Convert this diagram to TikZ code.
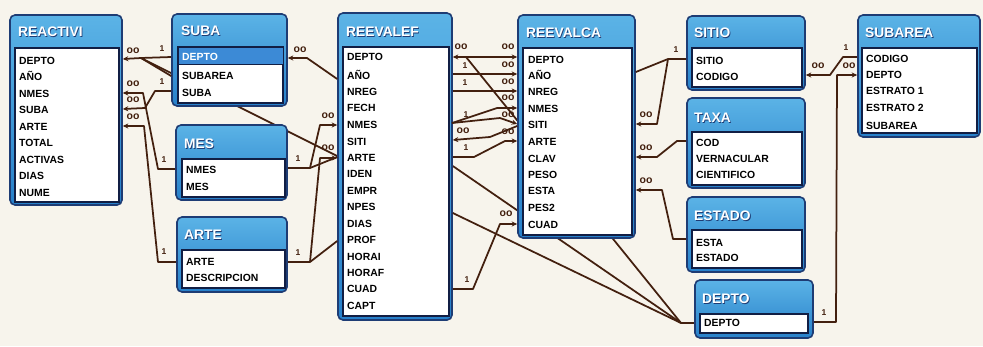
\documentclass[tikz,border=0pt]{standalone}
\usepackage{fontspec}
\setmainfont{Liberation Sans}
\usetikzlibrary{arrows.meta,fit}
\pgfdeclarelayer{bgpage}
\pgfdeclarelayer{behind}
\pgfsetlayers{bgpage,behind,main}
\definecolor{pagebg}{HTML}{F7F4EC}
\definecolor{navyb}{HTML}{1E3C74}
\definecolor{hdtop}{HTML}{5BB3E6}
\definecolor{hdbot}{HTML}{2780CA}
\definecolor{bodyb}{HTML}{111E44}
\definecolor{hlblue}{HTML}{3C8AD6}
\definecolor{brn}{HTML}{43200F}
\newcommand\fldrow[4]{\node[fld] (#1) at (#2,#3) {#4};}
\newcommand\ttlrow[4]{\node[ttlsh] (#1s) at (#2+0.8,#3+0.8) {#4};\node[ttl] (#1) at (#2,#3) {#4};}
\tikzset{
  tblouter/.style={draw=navyb, line width=1.6pt, rounded corners=5pt, top color=hdtop, bottom color=hdbot, inner sep=0pt},
  tblbody/.style={draw=bodyb, line width=1.3pt, fill=white, inner sep=0pt},
  ttl/.style={anchor=west, text=white, font=\fontsize{13.8}{14}\selectfont\bfseries, inner sep=0pt, text height=9.9pt, text depth=0pt},
  ttlsh/.style={ttl, text=navyb},
  fld/.style={anchor=west, font=\fontsize{10.4}{11}\selectfont\bfseries, inner sep=0pt, text=black, text height=7.4pt, text depth=0pt},
  conn/.style={draw=brn, line width=1.75pt, line join=round},
  many/.style={-{Stealth[length=5.5pt,width=5pt]}},
  manyboth/.style={{Stealth[length=5.5pt,width=5pt]}-{Stealth[length=5.5pt,width=5pt]}},
  lbl/.style={text=brn, font=\fontsize{10.5}{10}\selectfont\bfseries, inner sep=0pt},
  one/.style={text=brn, font=\fontsize{8.5}{8}\selectfont\bfseries, inner sep=0pt},
}
\begin{document}
\begin{tikzpicture}[x=1pt,y=-1pt]
\useasboundingbox (0,0) rectangle (983,346);
\begin{pgfonlayer}{bgpage}
\fill[pagebg] (0,0) rectangle (983,346);
\end{pgfonlayer}

% ---------- REACTIVI
\node[tblouter, fit={(10,15) (122,205)}] (reactivi) {};
\node[tblbody, fit={(15,48) (119,202)}] (reactivi-b) {};
\ttlrow{reactivi-t}{18}{32}{REACTIVI}
\fldrow{ra1}{19}{61}{DEPTO}
\fldrow{ra2}{19}{77}{AÑO}
\fldrow{ra3}{19}{94}{NMES}
\fldrow{ra4}{19}{110}{SUBA}
\fldrow{ra5}{19}{127}{ARTE}
\fldrow{ra6}{19}{143}{TOTAL}
\fldrow{ra7}{19}{160}{ACTIVAS}
\fldrow{ra8}{19}{176}{DIAS}
\fldrow{ra9}{19}{193}{NUME}

% ---------- SUBA
\node[tblouter, fit={(172,14) (287,106)}] (suba) {};
\node[tblbody, fit={(178,47) (283,103)}] (suba-b) {};
\node[fill=hlblue, draw=bodyb, line width=0.8pt, inner sep=0pt, fit={(178,47) (283,64)}] (suba-hl) {};
\ttlrow{suba-t}{181}{31}{SUBA}
\node[fld, text=white] (sb1) at (182,57) {DEPTO};
\fldrow{sb2}{182}{76}{SUBAREA}
\fldrow{sb3}{182}{93}{SUBA}

% ---------- MES
\node[tblouter, fit={(176,125) (287,200)}] (mes) {};
\node[tblbody, fit={(182,159) (285,197)}] (mes-b) {};
\ttlrow{mes-t}{184}{144}{MES}
\fldrow{ms1}{186}{170}{NMES}
\fldrow{ms2}{186}{187}{MES}

% ---------- ARTE
\node[tblouter, fit={(177,217) (287,292)}] (arte) {};
\node[tblbody, fit={(182,250) (285,288)}] (arte-b) {};
\ttlrow{arte-t}{184}{235}{ARTE}
\fldrow{at1}{186}{262}{ARTE}
\fldrow{at2}{186}{278}{DESCRIPCION}

% ---------- REEVALEF
\node[tblouter, fit={(338,13) (452,320)}] (reevalef) {};
\node[tblbody, fit={(343,47) (449,316)}] (reevalef-b) {};
\ttlrow{reevalef-t}{346}{32}{REEVALEF}
\fldrow{ef1}{347}{57}{DEPTO}
\fldrow{ef2}{347}{76}{AÑO}
\fldrow{ef3}{347}{92}{NREG}
\fldrow{ef4}{347}{108}{FECH}
\fldrow{ef5}{347}{125}{NMES}
\fldrow{ef6}{347}{142}{SITI}
\fldrow{ef7}{347}{158}{ARTE}
\fldrow{ef8}{347}{174}{IDEN}
\fldrow{ef9}{347}{191}{EMPR}
\fldrow{ef10}{347}{207}{NPES}
\fldrow{ef11}{347}{224}{DIAS}
\fldrow{ef12}{347}{240}{PROF}
\fldrow{ef13}{347}{257}{HORAI}
\fldrow{ef14}{347}{273}{HORAF}
\fldrow{ef15}{347}{289}{CUAD}
\fldrow{ef16}{347}{306}{CAPT}

% ---------- REEVALCA
\node[tblouter, fit={(518,15) (635,238)}] (reevalca) {};
\node[tblbody, fit={(523,48) (632,235)}] (reevalca-b) {};
\ttlrow{reevalca-t}{526}{33}{REEVALCA}
\fldrow{ca1}{528}{60}{DEPTO}
\fldrow{ca2}{528}{76}{AÑO}
\fldrow{ca3}{528}{92}{NREG}
\fldrow{ca4}{528}{109}{NMES}
\fldrow{ca5}{528}{125}{SITI}
\fldrow{ca6}{528}{142}{ARTE}
\fldrow{ca7}{528}{159}{CLAV}
\fldrow{ca8}{528}{175}{PESO}
\fldrow{ca9}{528}{191}{ESTA}
\fldrow{ca10}{528}{208}{PES2}
\fldrow{ca11}{528}{225}{CUAD}

% ---------- SITIO
\node[tblouter, fit={(687,16) (805,90)}] (sitio) {};
\node[tblbody, fit={(692,48) (802,87)}] (sitio-b) {};
\ttlrow{sitio-t}{694}{33}{SITIO}
\fldrow{si1}{696}{61}{SITIO}
\fldrow{si2}{696}{77}{CODIGO}

% ---------- TAXA
\node[tblouter, fit={(687,98) (805,188)}] (taxa) {};
\node[tblbody, fit={(692,132) (802,185)}] (taxa-b) {};
\ttlrow{taxa-t}{694}{118}{TAXA}
\fldrow{tx1}{696}{143}{COD}
\fldrow{tx2}{696}{159}{VERNACULAR}
\fldrow{tx3}{696}{175}{CIENTIFICO}

% ---------- ESTADO
\node[tblouter, fit={(687,197) (805,272)}] (estado) {};
\node[tblbody, fit={(692,230) (802,268)}] (estado-b) {};
\ttlrow{estado-t}{694}{216}{ESTADO}
\fldrow{es1}{696}{243}{ESTA}
\fldrow{es2}{696}{258}{ESTADO}

% ---------- DEPTO
\node[tblouter, fit={(695,280) (813,338)}] (depto) {};
\node[tblbody, fit={(700,314) (808,333)}] (depto-b) {};
\ttlrow{depto-t}{702}{299}{DEPTO}
\fldrow{dp1}{704}{323}{DEPTO}

% ---------- SUBAREA
\node[tblouter, fit={(858,15) (980,137)}] (subarea) {};
\node[tblbody, fit={(862,48) (977,133)}] (subarea-b) {};
\ttlrow{subarea-t}{865}{33}{SUBAREA}
\fldrow{sa1}{866}{59}{CODIGO}
\fldrow{sa2}{866}{75}{DEPTO}
\fldrow{sa3}{866}{91}{ESTRATO 1}
\fldrow{sa4}{866}{108}{ESTRATO 2}
\fldrow{sa5}{866}{126}{SUBAREA}

% ---------- junctions
\coordinate (j1) at (141,58);
\coordinate (j2) at (310,168);
\coordinate (j3) at (310,262);
\coordinate (j4) at (681,323);
\coordinate (j5) at (668,59);
\coordinate (j6) at (466,57);
\coordinate (j7) at (452,123);

% ---------- connectors passing behind tables
\begin{pgfonlayer}{behind}
\draw[conn] (j1) -- (reevalef.west |- 0,156);
\draw[conn] (j6) -- (j4);
\draw[conn] (reevalef.east |- 0,166) -- (j4);
\end{pgfonlayer}

% ---------- left connectors
\draw[conn,many] (suba.west |- 0,57) -- (j1) -- (reactivi.east |- 0,59);
\draw[conn] (suba.west |- 0,76) -- (j1);
\draw[conn,many] (suba.west |- 0,91) -- (155,91) -- (145,108) -- (reactivi.east |- 0,109);
\draw[conn,many] (mes.west |- 0,169) -- (158,169) -- (143,93) -- (reactivi.east |- 0,93);
\draw[conn,many] (arte.west |- 0,262) -- (158,262) -- (144,126) -- (reactivi.east |- 0,126);
\node[one] (o1) at (162,49) {1};
\node[lbl] (m1) at (133,51) {oo};
\node[one] (o2) at (162,82) {1};
\node[lbl] (m2) at (133,100) {oo};
\node[one] (o3) at (164,160) {1};
\node[lbl] (m3) at (133,84) {oo};
\node[one] (o4) at (164,252) {1};
\node[lbl] (m4) at (133,117) {oo};

% ---------- to REEVALEF
\draw[conn,many] (reevalef.west |- 0,79) -- (307,58) -- (suba.east |- 0,58);
\node[lbl] (m5) at (300,50) {oo};
\draw[conn,many] (mes.east |- 0,168) -- (j2) -- (320,125) -- (reevalef.west |- 0,125);
\draw[conn] (j2) -- (reevalef.west |- 0,157);
\node[one] (o6) at (298,159) {1};
\node[lbl] (m6) at (328,116) {oo};
\draw[conn,many] (arte.east |- 0,262) -- (j3) -- (320,158) -- (reevalef.west |- 0,158);
\draw[conn] (j3) -- (reevalef.west |- 0,241);
\node[one] (o7) at (298,253) {1};
\node[lbl] (m7) at (328,148) {oo};

% ---------- REEVALEF - REEVALCA
\draw[conn,manyboth] (reevalef.east |- 0,57) -- (reevalca.west |- 0,57);
\node[lbl] (m8a) at (461,47) {oo};
\node[lbl] (m8b) at (508,47) {oo};
\draw[conn,many] (reevalef.east |- 0,74) -- (reevalca.west |- 0,74);
\node[one] (o9) at (465,66) {1};
\node[lbl] (m9) at (508,65) {oo};
\draw[conn,many] (reevalef.east |- 0,91) -- (reevalca.west |- 0,91);
\node[one] (o10) at (465,83) {1};
\node[lbl] (m10) at (508,82) {oo};
\draw[conn,many] (j7) -- (497,108) -- (reevalca.west |- 0,108);
\draw[conn,many] (j7) -- (500,118) -- (reevalca.west |- 0,124);
\node[one] (o11) at (466,115) {1};
\node[lbl] (m11a) at (508,98) {oo};
\node[lbl] (m11b) at (508,115) {oo};
\draw[conn,many] (reevalca.west |- 0,126) -- (490,137) -- (reevalef.east |- 0,140);
\node[lbl] (m12) at (463,131) {oo};
\draw[conn,many] (reevalef.east |- 0,157) -- (474,157) -- (505,141) -- (reevalca.west |- 0,141);
\node[one] (o13) at (466,148) {1};
\node[lbl] (m13) at (508,132) {oo};
\draw[conn,many] (reevalef.east |- 0,289) -- (473,289) -- (500,224) -- (reevalca.west |- 0,224);
\node[one] (o14) at (467,280) {1};
\node[lbl] (m14) at (506,214) {oo};
\draw[conn] (reevalef.east |- 0,213) -- (j4);
\draw[conn] (j4) -- (depto.west |- 0,323);

% ---------- right side
\draw[conn] (sitio.west |- 0,59) -- (j5) -- (reevalca.east |- 0,72);
\draw[conn,many] (j5) -- (657,124) -- (reevalca.east |- 0,124);
\node[one] (o15) at (676,50) {1};
\node[lbl] (m15) at (646,115) {oo};
\draw[conn,many] (taxa.west |- 0,141) -- (677,141) -- (657,157) -- (reevalca.east |- 0,157);
\node[lbl] (m16) at (646,148) {oo};
\draw[conn,many] (estado.west |- 0,239) -- (673,239) -- (662,190) -- (reevalca.east |- 0,190);
\node[lbl] (m17) at (646,181) {oo};
\draw[conn,many] (subarea.west |- 0,57) -- (843,57) -- (830,75) -- (sitio.east |- 0,75);
\node[one] (o18) at (846,48) {1};
\node[lbl] (m18) at (818,66) {oo};
\draw[conn,many] (depto.east |- 0,322) -- (836,322) -- (837,75) -- (subarea.west |- 0,75);
\node[one] (o19) at (824,313) {1};
\node[lbl] (m19) at (849,66) {oo};
\end{tikzpicture}
\end{document}
